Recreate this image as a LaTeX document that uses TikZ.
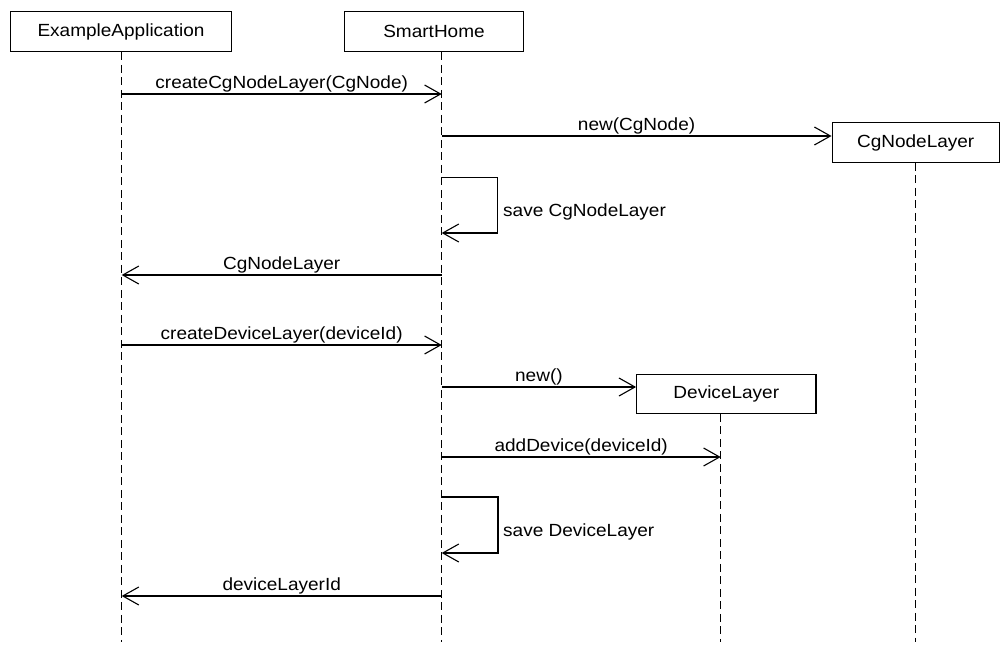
\documentclass[tikz,border=0pt]{standalone}
\usepackage{fontspec}
\setmainfont{Liberation Sans}[FakeStretch=1.08]
\usetikzlibrary{arrows.meta}
\tikzset{
  lbltext/.style={font=\fontsize{17.6}{21}\selectfont},
  obj/.style={draw, line width=1.1pt, minimum height=40pt, inner sep=0pt, lbltext},
  lifeline/.style={line width=1.1pt, dash pattern=on 8pt off 4.5pt},
  msg/.style={line width=1.1pt, -{Straight Barb[length=16pt,width=18pt,line width=1.1pt]}},
  msglbl/.style={anchor=base, yshift=6pt, inner sep=0pt, lbltext},
  selflbl/.style={anchor=base west, inner sep=0pt, lbltext}
}
\begin{document}
\begin{tikzpicture}[x=1pt, y=-1pt]
\useasboundingbox (0,0) rectangle (1004,648);

% participants
\node[obj, minimum width=220.6pt] (ea) at (121,31.7) {ExampleApplication};
\node[obj, minimum width=178.6pt] (sh) at (434,31.7) {SmartHome};
\node[obj, minimum width=167.3pt, minimum height=39.6pt] (cg) at (915.7,142.5) {CgNodeLayer};
\node[obj, minimum width=179.3pt, minimum height=39.3pt] (dl) at (726.3,393.7) {DeviceLayer};

% lifeline axes
\coordinate (eaL) at (121.7,0);
\coordinate (shL) at (441.7,0);
\coordinate (cgL) at (915.7,0);
\coordinate (dlL) at (720.7,0);

% lifelines
\draw[lifeline] (eaL |- ea.south) -- (eaL |- 0,642);
\draw[lifeline] (shL |- sh.south) -- (shL |- 0,642);
\draw[lifeline] (cgL |- cg.south) -- (cgL |- 0,642);
\draw[lifeline] (dlL |- dl.south) -- (dlL |- 0,642);

% messages
\draw[msg] (eaL |- 0,94) -- node[msglbl] {createCgNodeLayer(CgNode)} (shL |- 0,94);
\draw[msg] (shL |- 0,136) -- node[msglbl] {new(CgNode)} (cg.west |- 0,136);
\draw[msg] (shL |- 0,177.7) -- (497.7,177.7) -- (497.7,233) -- (shL |- 0,233);
\node[selflbl] (s1) at (503,216) {save CgNodeLayer};
\draw[msg] (shL |- 0,275) -- node[msglbl] {CgNodeLayer} (eaL |- 0,275);
\draw[msg] (eaL |- 0,345) -- node[msglbl] {createDeviceLayer(deviceId)} (shL |- 0,345);
\draw[msg] (shL |- 0,387) -- node[msglbl] {new()} (dl.west |- 0,387);
\draw[msg] (shL |- 0,457) -- node[msglbl] {addDevice(deviceId)} (dlL |- 0,457);
\draw[msg] (shL |- 0,497) -- (498,497) -- (498,553) -- (shL |- 0,553);
\node[selflbl] (s2) at (503,536) {save DeviceLayer};
\draw[msg] (shL |- 0,596) -- node[msglbl] {deviceLayerId} (eaL |- 0,596);
\end{tikzpicture}
\end{document}
